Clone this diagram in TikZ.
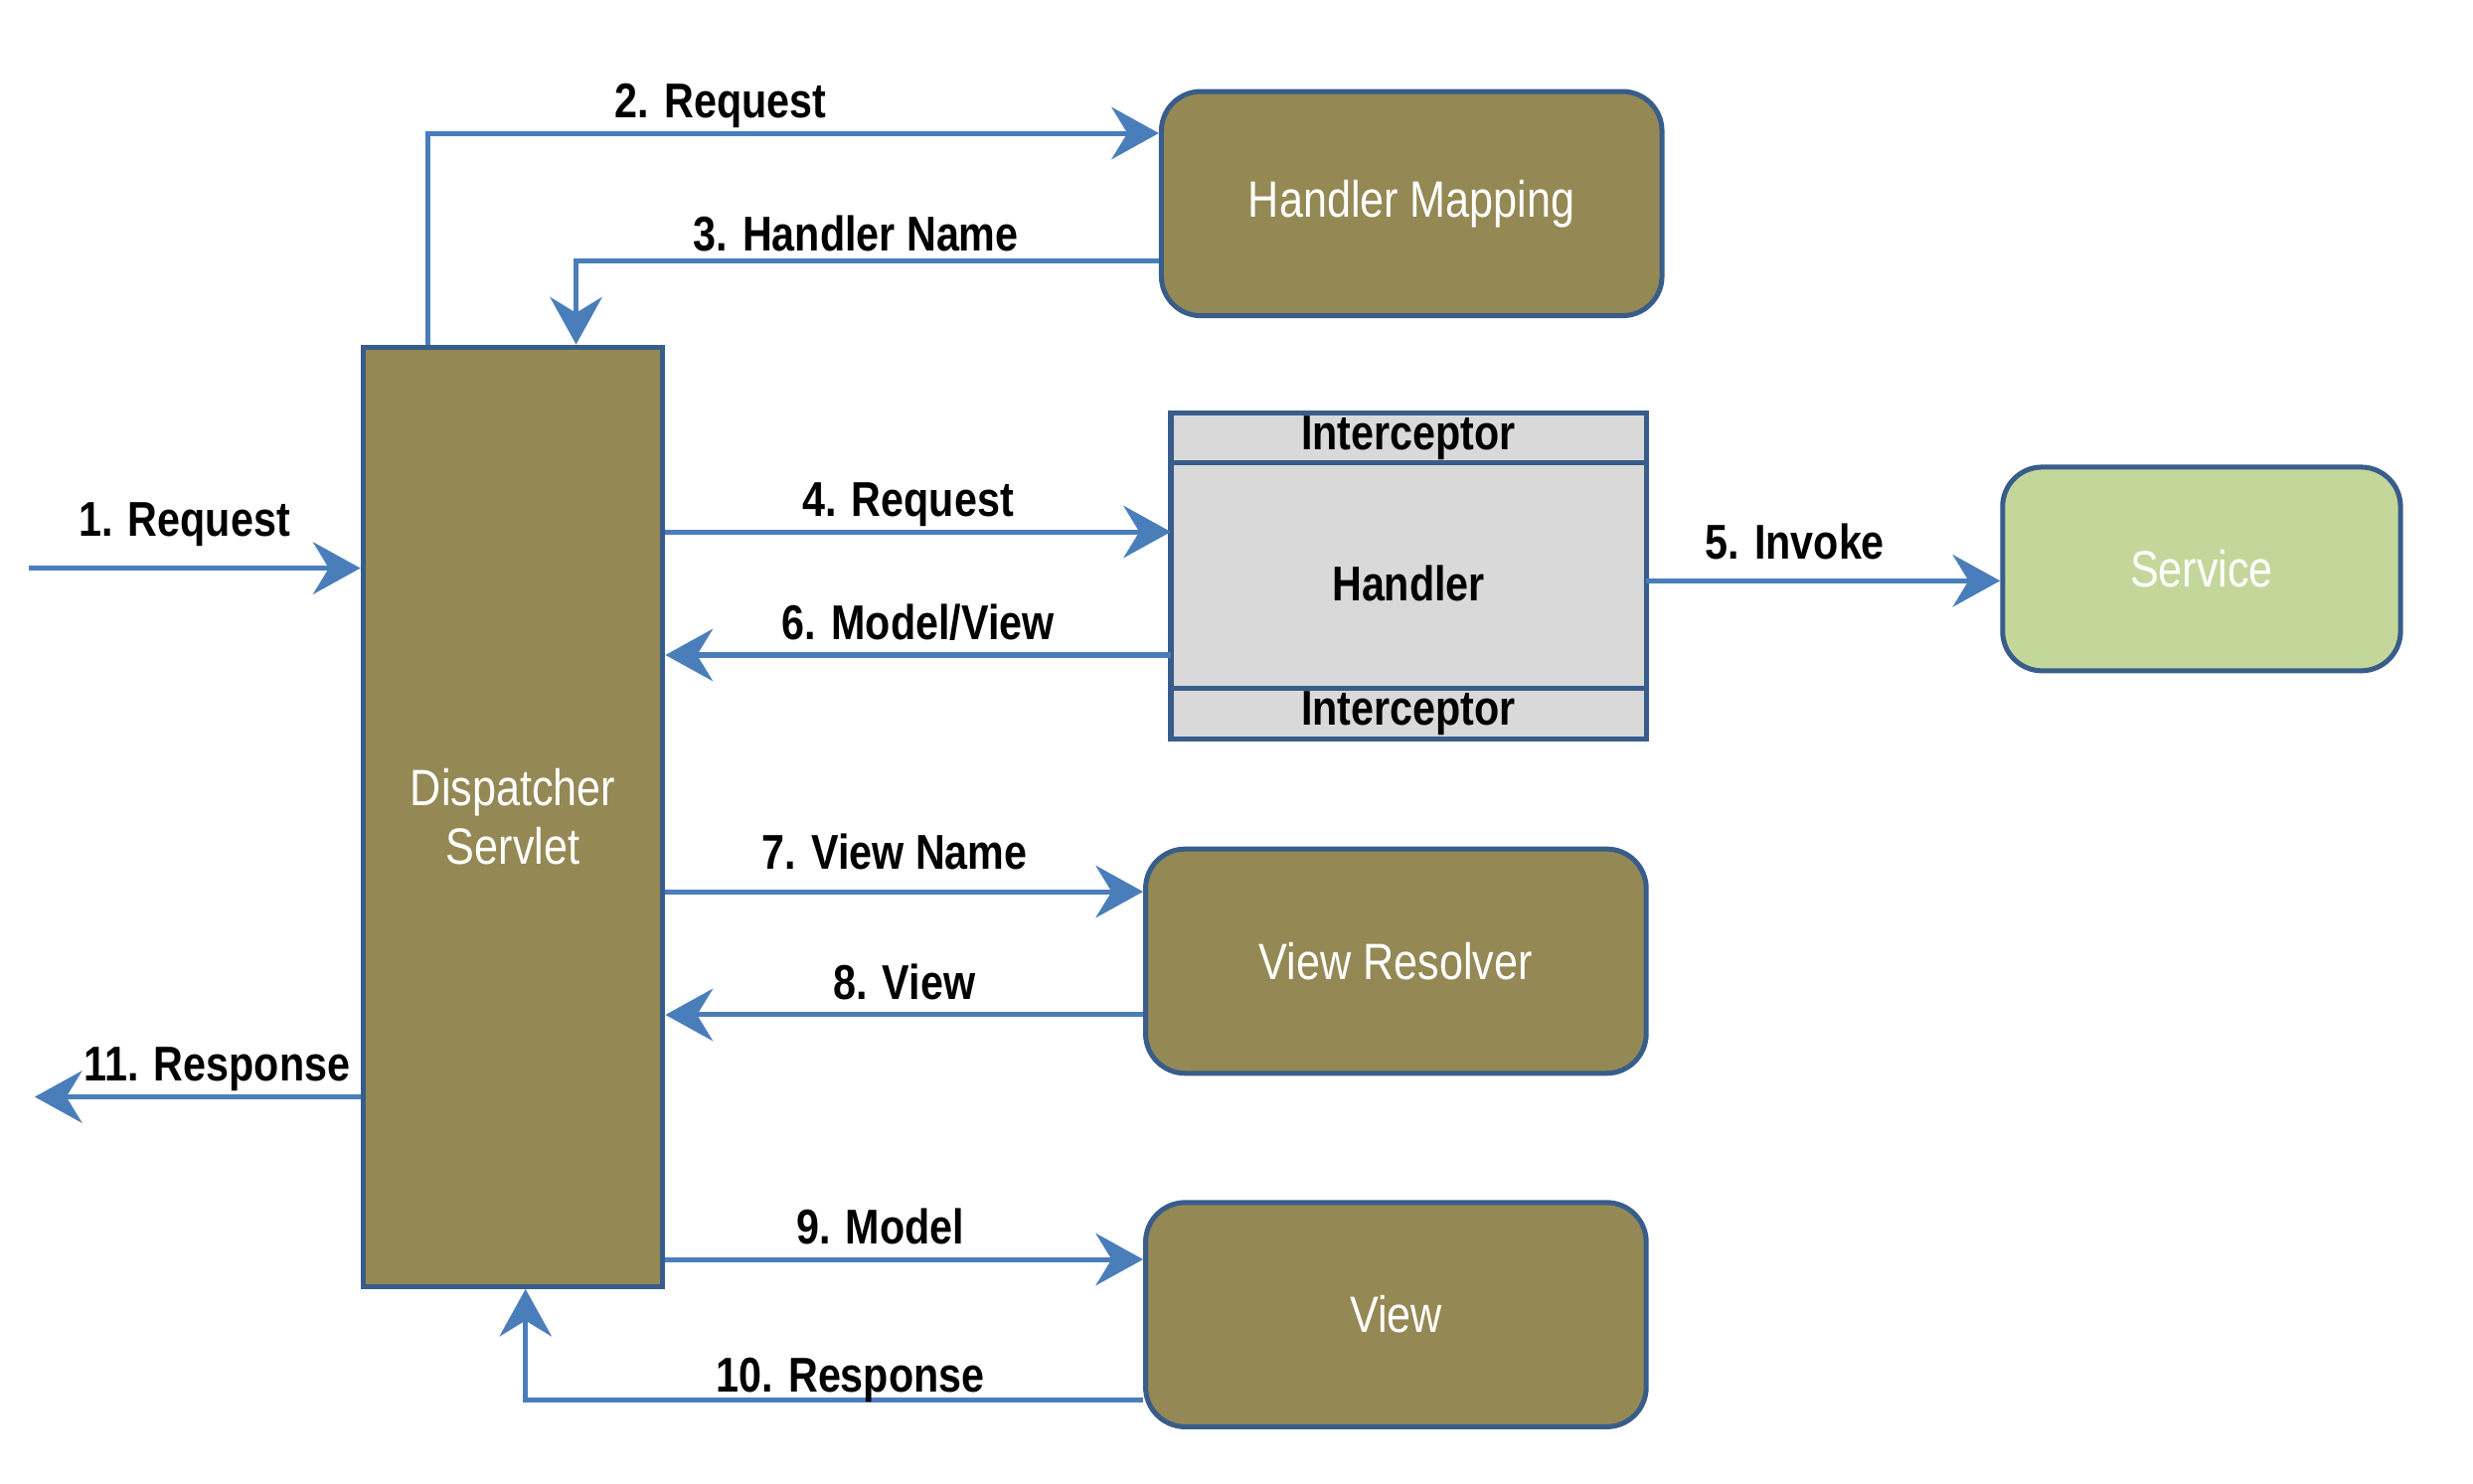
\documentclass[tikz,border=0pt]{standalone}
\usepackage{fontspec}
\setmainfont{Liberation Sans}[FakeStretch=0.84]
\usetikzlibrary{arrows.meta}
\usetikzlibrary{positioning}
\usepackage{xcolor}
\definecolor{boxolive}{RGB}{148,137,84}
\definecolor{borderblue}{RGB}{56,93,138}
\definecolor{arrowblue}{RGB}{74,126,187}
\definecolor{servicegreen}{RGB}{196,215,155}
\definecolor{handlergray}{RGB}{217,217,217}

\begin{document}
\begin{tikzpicture}[x=0.01cm, y=-0.01cm,
  flow/.style={draw=arrowblue, line width=0.9pt, -{Stealth[length=3mm, width=3.3mm, inset=1mm]}},
  box/.style={draw=borderblue, line width=0.9pt, fill=boxolive, text=white, rounded corners=2.5mm, minimum width=3.17cm, minimum height=1.42cm, font=\fontsize{9.2}{10.6}\selectfont},
  band/.style={draw=borderblue, line width=0.9pt, fill=handlergray, outer sep=0pt, inner sep=0pt, minimum width=3.01cm, font=\bfseries\fontsize{8.8}{10}\selectfont},
  lbl/.style={anchor=base, inner sep=0pt, yshift=#1, font=\bfseries\fontsize{8.8}{10}\selectfont},
  lbl/.default=1mm]
\useasboundingbox (0,0) rectangle (1567,939.7);

\node[box, rounded corners=0pt, minimum width=1.90cm, minimum height=5.95cm, align=center] (dispatcher) at (325,517.5) {Dispatcher\\Servlet};
\foreach \n/\px/\py/\t in {mapping/894.5/129/Handler Mapping, resolver/884.5/609/View Resolver, view/884.5/833/View}
  \node[box] (\n) at (\px,\py) {\t};
\node[box, fill=servicegreen, minimum width=2.52cm, minimum height=1.29cm] (service) at (1395,360.5) {Service};

\node[band, minimum height=1.43cm, text height=9.2pt, text depth=0pt] (handler) at (892.5,364.5) {Handler};
\node[band, minimum height=0.31cm, above=0pt of handler] (intertop) {Interceptor};
\node[band, minimum height=0.32cm, below=0pt of handler] (interbot) {Interceptor};

\coordinate (in1) at (18,360);
\coordinate (out11) at (22,695);
\coordinate (d2) at ([xshift=4.3mm]dispatcher.north west);
\coordinate (m2) at ([yshift=-2.8mm]mapping.north west);
\coordinate (m3) at ([yshift=-3.6mm]mapping.west);
\coordinate (d3) at ([xshift=4mm]dispatcher.north);
\coordinate (h4) at ([yshift=2.75mm]handler.west);
\coordinate (h5) at ([yshift=-.35mm]handler.east);
\coordinate (h6) at ([yshift=-5.05mm]handler.west);
\coordinate (r7) at ([yshift=4.4mm]resolver.west);
\coordinate (r8) at ([yshift=-3.4mm]resolver.west);
\coordinate (v9) at ([yshift=3.5mm]view.west);
\coordinate (v10) at ([yshift=-5.4mm]view.west);
\coordinate (d10) at ([xshift=.8mm]dispatcher.south);

\draw[flow] (in1) -- node[lbl=2mm, pos=.47] (l1) {1. Request} (in1 -| dispatcher.west);
\draw[flow] (d2) |- node[lbl, pos=.70] (l2) {2. Request} (m2);
\draw[flow] (m3) -| node[lbl=.6mm, pos=.26] (l3) {3. Handler Name} (d3);
\draw[flow] (h4 -| dispatcher.east) -- node[lbl, pos=.48] (l4) {4. Request} (h4);
\draw[flow] (h5) -- node[lbl=1.4mm, pos=.42] (l5) {5. Invoke} (h5 -| service.west);
\draw[flow] (h6) -- node[lbl, pos=.5] (l6) {6. Model/View} (h6 -| dispatcher.east);
\draw[flow] (r7 -| dispatcher.east) -- node[lbl=1.4mm, pos=.48] (l7) {7. View Name} (r7);
\draw[flow] (r8) -- node[lbl, pos=.5] (l8) {8. View} (r8 -| dispatcher.east);
\draw[flow] (v9 -| dispatcher.east) -- node[lbl, pos=.45] (l9) {9. Model} (v9);
\draw[flow] (v10) -| node[lbl=.5mm, pos=.237] (l10) {10. Response} (d10);
\draw[flow] (out11 -| dispatcher.west) -- node[lbl, pos=.44] (l11) {11. Response} (out11);
\end{tikzpicture}
\end{document}
